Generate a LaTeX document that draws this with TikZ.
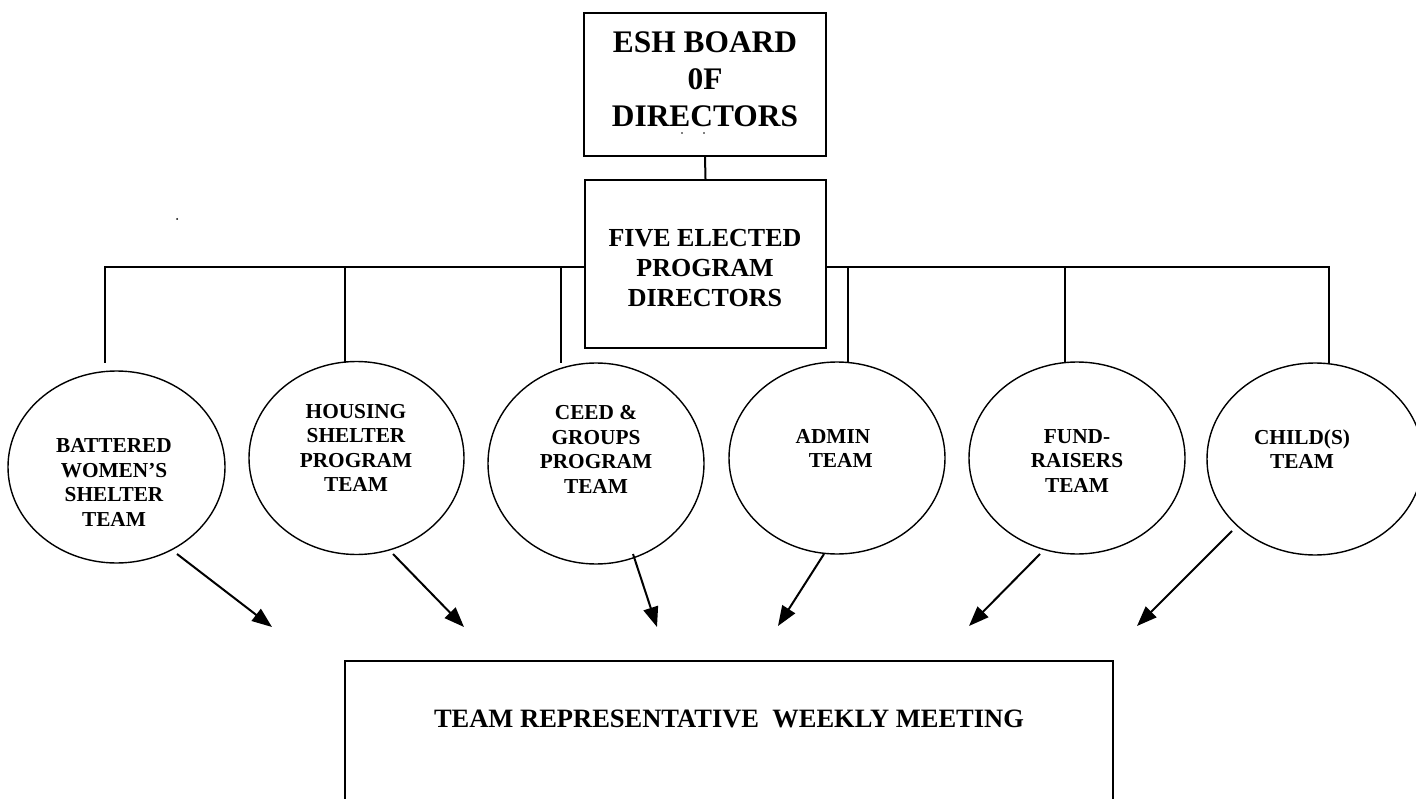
\documentclass[tikz,border=0pt]{standalone}
\usepackage{fontspec}
\setmainfont{Liberation Serif}
\usetikzlibrary{shapes.geometric,arrows.meta}
\begin{document}
\begin{tikzpicture}[x=1pt,y=-1pt,
  box/.style={draw, line width=2pt, rectangle, inner sep=0pt},
  oval/.style={draw, line width=1.4pt, ellipse, inner sep=0pt, minimum width=216pt, minimum height=192pt},
  wire/.style={line width=2pt},
  arr/.style={line width=2pt, -{Triangle[length=20pt,width=15pt]}},
  boardtxt/.style={inner sep=0pt, align=center, font=\bfseries\fontsize{31.4}{37}\selectfont},
  progtxt/.style={inner sep=0pt, align=center, font=\bfseries\fontsize{26}{30}\selectfont},
  teamtxt/.style={inner sep=0pt, align=center, font=\bfseries\fontsize{21.3}{24.5}\selectfont},
  meettxt/.style={inner sep=0pt, font=\bfseries\fontsize{26.5}{30}\selectfont},
]
\useasboundingbox (0,0) rectangle (1416,799);

% boxes
\node[box, minimum width=242pt, minimum height=143pt] (board) at (705,84.5) {};
\node[boardtxt] (boardt) at (705,79.5) {ESH BOARD\\0F\\DIRECTORS};
\node[box, minimum width=241pt, minimum height=168pt] (prog) at (705.5,264) {};
\node[progtxt] (progt) at (705,268.5) {FIVE ELECTED\\PROGRAM\\DIRECTORS};
\node[box, minimum width=768pt, minimum height=170pt] (meet) at (729,746) {};
\node[meettxt, anchor=base] (meett) at (729,727) {TEAM REPRESENTATIVE\ \ WEEKLY MEETING};

% stray dots
\fill (177,219) circle (1pt);
\fill (682,133) circle (0.9pt);
\fill (704,133) circle (0.9pt);

% ellipses
\node[oval, minimum width=217pt, minimum height=192pt] (e1) at (116.5,467) {};
\node[oval, minimum width=215pt, minimum height=193pt] (e2) at (356.5,458) {};
\node[oval, minimum width=216pt, minimum height=201pt] (e3) at (596,463.5) {};
\node[oval] (e4) at (837,458) {};
\node[oval] (e5) at (1077,458) {};
\node[oval] (e6) at (1315,459) {};

\node[teamtxt] (t1) at (114,482.5) {BATTERED\\WOMEN’S\\SHELTER\\TEAM};
\node[teamtxt] (t2) at (356,448) {HOUSING\\SHELTER\\PROGRAM\\TEAM};
\node[teamtxt] (t3) at (596,449.5) {CEED \&\\GROUPS\\PROGRAM\\TEAM};
\node[teamtxt] (t4) at (833,448.5) {ADMIN\\\hphantom{A}TEAM};
\node[teamtxt] (t5) at (1077,461) {FUND-\\RAISERS\\TEAM};
\node[teamtxt] (t6) at (1302,449) {CHILD(S)\\TEAM};

% bus coordinates
\coordinate (b1) at (105,267);
\coordinate (b2) at (345,267);
\coordinate (b3) at (561,267);
\coordinate (b4) at (848,267);
\coordinate (b5) at (1065,267);
\coordinate (b6) at (1329,267);
\coordinate (d1) at (105,363);
\coordinate (d2) at (345,363);
\coordinate (d3) at (561,363);
\coordinate (d4) at (848,363);
\coordinate (d5) at (1065,363);
\coordinate (d6) at (1329,363);

\draw[wire] (board.south) -- (prog.north);
\draw[wire] (d1) -- (b1) -- (prog.west |- b1);
\draw[wire] (prog.east |- b6) -- (b6) -- (d6);
\draw[wire] (b2) -- (d2);
\draw[wire] (b3) -- (d3);
\draw[wire] (b4) -- (d4);
\draw[wire] (b5) -- (d5);

% arrows
\coordinate (s1) at (177,554); \coordinate (h1) at (272,627);
\coordinate (s2) at (393,554); \coordinate (h2) at (464,627);
\coordinate (s3) at (633,554); \coordinate (h3) at (657,627);
\coordinate (s4) at (824,554); \coordinate (h4) at (778,626);
\coordinate (s5) at (1040,554); \coordinate (h5) at (969,626);
\coordinate (s6) at (1232,531); \coordinate (h6) at (1137,626);
\foreach \i in {1,...,6} {\draw[arr] (s\i) -- (h\i);}
\end{tikzpicture}
\end{document}
